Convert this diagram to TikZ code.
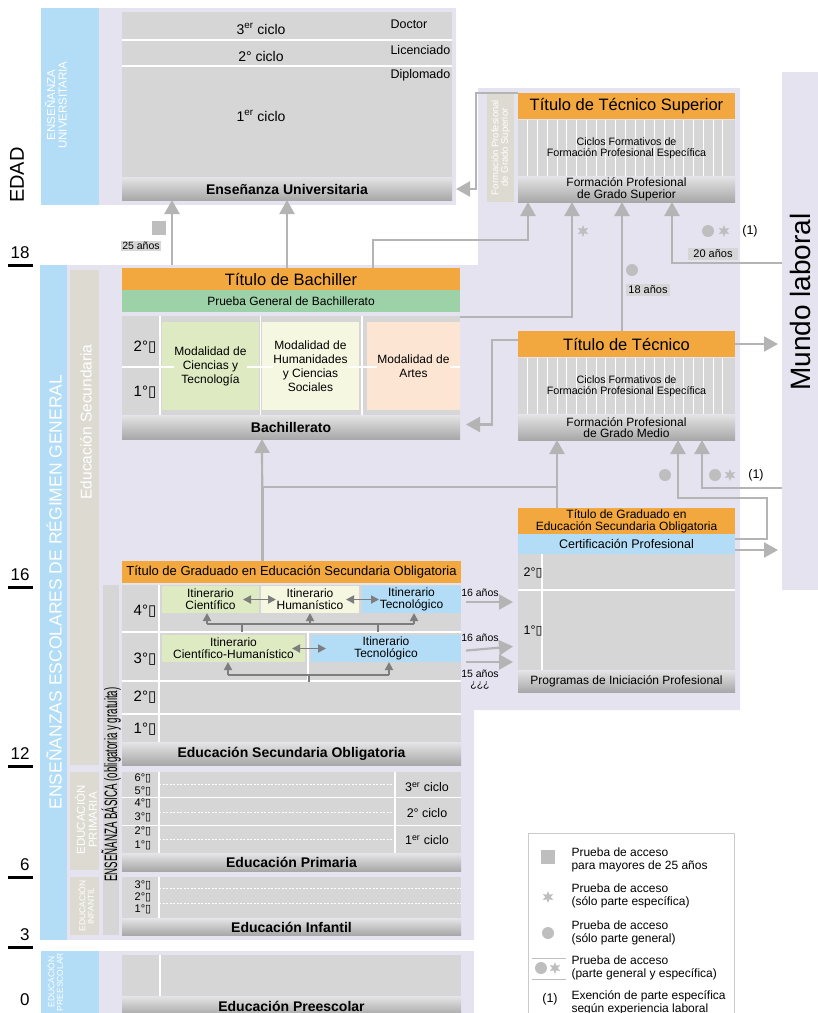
\documentclass[tikz,border=0pt]{standalone}
\usepackage{graphicx}
\usepackage{fontspec}
\setmainfont{Liberation Sans}
\newfontfamily\symfont{DejaVu Sans}
\usetikzlibrary{arrows.meta, shapes.geometric, positioning}

\definecolor{lav}{HTML}{E5E3EF}
\definecolor{sky}{HTML}{B3DDF6}
\definecolor{boxgray}{HTML}{D6D6D6}
\definecolor{sand}{HTML}{DDDBD1}
\definecolor{orng}{HTML}{F2A73F}
\definecolor{prueba}{HTML}{9DD1A8}
\definecolor{modcien}{HTML}{DEEAC2}
\definecolor{modhum}{HTML}{F5F7E1}
\definecolor{modart}{HTML}{FCE6D3}
\definecolor{barhi}{HTML}{E2E2E2}
\definecolor{barlo}{HTML}{A8A8A8}
\definecolor{connc}{HTML}{B4B4B4}
\definecolor{dark}{HTML}{7D7D7D}
\definecolor{symc}{HTML}{BEBEBE}

\newcommand\fsz[2]{\fontsize{#1}{#2}\selectfont}
\newcommand\tofu{{\symfont ▯}}
\newcommand\blk[7]{\node[#6, anchor=north west, inner sep=0pt, outer sep=0pt,
  minimum width={(#4-#2)*1pt}, minimum height={(#5-#3)*1pt}] (#1) at (#2,#3) {#7};}

\begin{document}
\begin{tikzpicture}[x=1pt, y=-1pt,
>={Triangle[length=14pt,width=15pt]},
box/.style={fill=boxgray},
bar/.style={top color=barhi, bottom color=barlo, font=\bfseries\fsz{14}{14}},
fpb/.style={top color=barhi, bottom color=barlo, font=\fsz{12}{11.5}, align=center},
ttl/.style={fill=orng, font=\fsz{16.5}{16.5}},
itin/.style={font=\fsz{12}{12}, align=center},
mtxt/.style={font=\fsz{12}{14}, align=center, inner sep=0pt},
link/.style={draw=connc, line width=2.2pt},
dlink/.style={draw=dark, line width=1.8pt},
dtip/.style={-{Triangle[length=8pt,width=8pt]}},
wline/.style={white, line width=1.6pt},
wdash/.style={white, line width=1pt, dash pattern=on 2pt off 1.5pt},
vtxt/.style={rotate=90, text=white, align=center},
yr/.style={font=\fsz{15}{15}},
yrs/.style={font=\fsz{11}{11}},
age/.style={fill=boxgray, font=\fsz{11}{11}, inner sep=2pt},
star6/.style={star, star points=6, star point ratio=2.2, fill=symc, draw=none, inner sep=0pt, minimum size=12pt},
dot/.style={circle, fill=symc, inner sep=0pt, minimum size=12pt},
legtxt/.style={anchor=west, font=\fsz{12}{12.5}, align=left}
]
\useasboundingbox (0,0) rectangle (818,1013);

\fill[lav] (41,8) rectangle (456,205);
\fill[sky] (41,8) rectangle (99,205);
\fill[lav] (67,265) -- (478,265) -- (478,88) -- (740,88) -- (740,710) -- (474,710) -- (474,940) -- (67,940) -- cycle;
\fill[sky] (40,265) rectangle (67,940);
\fill[lav] (41,951) rectangle (474,1013);
\fill[sky] (41,951) rectangle (99,1013);
\fill[sand] (70,270) rectangle (99,765);
\fill[sand] (70,772) rectangle (99,870);
\fill[sand] (70,877) rectangle (99,935);
\fill[boxgray] (103,585) rectangle (119,935);
\blk{mundo}{782}{72}{818}{590}{fill=lav}{}
\node[rotate=90, font=\fsz{28}{28}] (mlab) at ([yshift=29pt]mundo.center) {Mundo laboral};

\node[rotate=90, font=\fsz{20}{20}] (edad) at (17,175) {EDAD};
\node[vtxt, font=\fsz{11.5}{11.5}] (euni) at (56,105) {ENSEÑANZA\\UNIVERSITARIA};
\node[vtxt, font=\fsz{17.5}{17.5}] (eesc) at (54,592) {ENSEÑANZAS ESCOLARES DE RÉGIMEN GENERAL};
\node[vtxt, font=\fsz{15.5}{15.5}] (esec) at (86,422) {Educación Secundaria};
\node[vtxt, font=\fsz{11.5}{12}] (eprim) at (86,820) {EDUCACIÓN\\PRIMARIA};
\node[vtxt, font=\fsz{8.5}{8.5}] (einf) at (86,906) {EDUCACIÓN\\INFANTIL};
\node[vtxt, font=\fsz{8.5}{8.5}] (epre) at (55,982) {EDUCACIÓN\\PREESCOLAR};
\node[rotate=90, anchor=west, inner sep=0pt] (ebas) at (111,882) {\scalebox{0.54}[1]{\fsz{18}{18}ENSEÑANZA BÁSICA (obligatoria y gratuita)}};

\foreach \y/\a in {265/18, 587/16, 766/12, 877/6, 947/3} {
  \node[anchor=east, font=\fsz{17}{17}] at (33,\y-12) {\a};
  \draw[line width=3pt] (8,\y) -- (33,\y);
}
\node[anchor=east, font=\fsz{17}{17}] (a0) at (33,1000) {0};

\blk{univ}{122}{12}{452}{177}{box}{}
\blk{univbar}{122}{178}{452}{200}{bar}{Enseñanza Universitaria}
\draw[wline] (122,40) -- (452,40);
\draw[wline] (122,66) -- (452,66);
\node[font=\fsz{14}{14}] (c3) at (261,29) {3\textsuperscript{er} ciclo};
\node[font=\fsz{14}{14}] (c2) at (261,56) {2° ciclo};
\node[font=\fsz{14}{14}] (c1) at (261,116) {1\textsuperscript{er} ciclo};
\node[anchor=west, font=\fsz{12.5}{12.5}] (doc) at (387,24) {Doctor};
\node[anchor=west, font=\fsz{12.5}{12.5}] (lic) at (387,50) {Licenciado};
\node[anchor=west, font=\fsz{12.5}{12.5}] (dip) at (387,75) {Diplomado};

\fill[sand] (487,93) rectangle (514,202);
\node[vtxt, font=\fsz{9.5}{9.5}] (efps) at (500.5,147.5) {Formación Profesional\\de Grado Superior};
\blk{tsup}{518}{93}{735}{119}{ttl}{Título de Técnico Superior}
\blk{cfs}{518}{120}{735}{176}{box}{}
\foreach \i in {1,...,21} \draw[wline, line width=1pt] ([xshift=\i*9.75pt]cfs.north west) -- ([xshift=\i*9.75pt]cfs.south west);
\node[font=\fsz{10.7}{11.5}, align=center] (cfst) at (cfs.center) {Ciclos Formativos de\\Formación Profesional Específica};
\blk{fpsbar}{518}{177}{735}{202}{fpb}{Formación Profesional\\de Grado Superior}

\blk{ttec}{518}{331}{735}{357}{ttl}{Título de Técnico}
\blk{cfm}{518}{358}{735}{414}{box}{}
\foreach \i in {1,...,21} \draw[wline, line width=1pt] ([xshift=\i*9.75pt]cfm.north west) -- ([xshift=\i*9.75pt]cfm.south west);
\node[font=\fsz{10.7}{11.5}, align=center] (cfmt) at (cfm.center) {Ciclos Formativos de\\Formación Profesional Específica};
\blk{fpmbar}{518}{415}{735}{440}{fpb}{Formación Profesional\\de Grado Medio}

\blk{tbach}{122}{268}{460}{290}{ttl}{Título de Bachiller}
\blk{pgb}{122}{290}{460}{312}{fill=prueba, font=\fsz{12}{12}}{Prueba General de Bachillerato}
\blk{bachbox}{122}{316}{460}{415}{box}{}
\blk{bachbar}{122}{416}{460}{439}{bar}{Bachillerato}
\blk{modcie}{162}{322}{259}{410}{fill=modcien}{}
\blk{modhu}{262}{322}{359}{410}{fill=modhum}{}
\blk{modar}{367}{322}{460}{410}{fill=modart}{}
\draw[wline] (160,316) -- (160,415);
\draw[wline] (260.5,316) -- (260.5,415);
\draw[wline] (362,316) -- (362,415);
\draw[wline] (122,367) -- (460,367);
\node[mtxt, fill=modcien] at (modcie.center) {Modalidad de\\Ciencias y\\Tecnología};
\node[mtxt, fill=modhum] at (modhu.center) {Modalidad de\\Humanidades\\y Ciencias\\Sociales};
\node[mtxt, fill=modart] at (modar.center) {Modalidad de\\Artes};
\node[yr] (b2) at (145,347) {2°\tofu};
\node[yr] (b1) at (145,392) {1°\tofu};

\blk{tgeso}{122}{561}{461}{583}{ttl, font=\fsz{13}{13}}{Título de Graduado en Educación Secundaria Obligatoria}
\blk{esobox}{122}{585}{461}{742}{box}{}
\blk{esobar}{122}{743}{461}{765}{bar}{Educación Secundaria Obligatoria}
\draw[wline] (122,632) -- (461,632);
\draw[wline] (122,681) -- (461,681);
\draw[wline] (122,714) -- (461,714);
\draw[wline] (159,585) -- (159,742);
\draw[wline] (308,633) -- (308,681);
\blk{i4c}{162}{586}{259}{613}{fill=modcien, itin}{Itinerario\\Científico}
\blk{i4h}{261}{586}{359}{613}{fill=modhum, itin}{Itinerario\\Humanístico}
\blk{i4t}{362}{586}{461}{613}{fill=sky, itin}{Itinerario\\Tecnológico}
\blk{i3c}{162}{635}{305}{662}{fill=modcien, itin}{Itinerario\\Científico-Humanístico}
\blk{i3t}{311}{635}{461}{662}{fill=sky, itin}{Itinerario\\Tecnológico}
\node[yr] (e4) at (145,611) {4°\tofu};
\node[yr] (e3) at (145,659) {3°\tofu};
\node[yr] (e2) at (145,697) {2°\tofu};
\node[yr] (e1) at (145,729) {1°\tofu};

\draw[dlink, {Triangle[length=8pt,width=8pt]}-{Triangle[length=8pt,width=8pt]}] ([xshift=-16pt]i4c.east) -- ([xshift=15pt]i4h.west);
\draw[dlink, {Triangle[length=8pt,width=8pt]}-{Triangle[length=8pt,width=8pt]}] ([xshift=-13pt]i4h.east) -- ([xshift=17pt]i4t.west);
\draw[dlink, {Triangle[length=8pt,width=8pt]}-{Triangle[length=8pt,width=8pt]}] ([xshift=-13pt]i3c.east) -- ([xshift=15pt]i3t.west);

\draw[dlink] ([xshift=-3.5pt,yshift=-11pt]i4c.south) -- ([xshift=2.5pt,yshift=-11pt]i4t.south);
\draw[dlink, dtip] ([xshift=-3.5pt,yshift=-11pt]i4c.south) -- ([xshift=-3.5pt]i4c.south);
\draw[dlink, dtip] ([yshift=-11pt]i4h.south) -- (i4h.south);
\draw[dlink, dtip] ([xshift=2.5pt,yshift=-11pt]i4t.south) -- ([xshift=2.5pt]i4t.south);
\draw[dlink] ([xshift=31.5pt,yshift=-11pt]i4c.south) -- ([xshift=31.5pt,yshift=-19pt]i4c.south);
\draw[dlink] ([xshift=-33.5pt,yshift=-11pt]i4t.south) -- ([xshift=-33.5pt,yshift=-19pt]i4t.south);

\draw[dlink] ([xshift=-5.5pt,yshift=-13pt]i3c.south) -- ([xshift=3pt,yshift=-13pt]i3t.south);
\draw[dlink, dtip] ([xshift=-5.5pt,yshift=-13pt]i3c.south) -- ([xshift=-5.5pt]i3c.south);
\draw[dlink, dtip] ([xshift=3pt,yshift=-13pt]i3t.south) -- ([xshift=3pt]i3t.south);
\draw[dlink] ([xshift=4pt,yshift=-13pt]i3c.south east) -- ([xshift=4pt,yshift=-20pt]i3c.south east);

\blk{tpip}{518}{508}{735}{534}{fill=orng, font=\fsz{12}{12}, align=center}{Título de Graduado en\\Educación Secundaria Obligatoria}
\blk{tcert}{518}{534}{735}{554}{fill=sky, font=\fsz{12.5}{12.5}}{Certificación Profesional}
\blk{pipbox}{518}{554}{735}{670}{box}{}
\blk{pipbar}{518}{671}{735}{692}{bar, font=\fsz{12}{12}}{Programas de Iniciación Profesional}
\draw[wline] (518,590) -- (735,590);
\draw[wline] (542,554) -- (542,670);
\node[font=\fsz{12.5}{12.5}] (p2) at (533,573) {2°\tofu};
\node[font=\fsz{12.5}{12.5}] (p1) at (533,631) {1°\tofu};

\blk{primbox}{122}{772}{461}{853}{box}{}
\blk{primbar}{122}{854}{461}{871}{bar}{Educación Primaria}
\draw[wline] (122,797.5) -- (461,797.5);
\draw[wline] (122,825.5) -- (461,825.5);
\draw[wline] (159,772) -- (159,853);
\draw[wline] (395,772) -- (395,853);
\foreach \y in {784,812,839} \draw[wdash] (159,\y) -- (395,\y);
\foreach \y/\n in {778/6, 791/5, 803/4, 817/3, 831/2, 845/1} \node[yrs] at (143,\y) {\n°\tofu};
\node[font=\fsz{12.5}{12.5}] (p3c) at (427,787) {3\textsuperscript{er} ciclo};
\node[font=\fsz{12.5}{12.5}] (p2c) at (427,813) {2° ciclo};
\node[font=\fsz{12.5}{12.5}] (p1c) at (427,840) {1\textsuperscript{er} ciclo};

\blk{infbox}{122}{877}{461}{918}{box}{}
\blk{infbar}{122}{919}{461}{935}{bar}{Educación Infantil}
\draw[wline] (159,877) -- (159,918);
\foreach \y in {888,903} \draw[wdash] (159,\y) -- (461,\y);
\foreach \y/\n in {885/3, 897/2, 909/1} \node[yrs] at (143,\y) {\n°\tofu};

\blk{prebox}{122}{955}{461}{996}{box}{}
\blk{prebar}{122}{997}{461}{1015}{bar}{Educación Preescolar}
\draw[wline] (160,955) -- (160,996);

\node[fill=symc, minimum size=14pt, inner sep=0pt] (sq25) at (159,228) {};
\node[age, minimum width=38pt, inner sep=1pt, font=\fsz{10.5}{10.5}] (a25) at (141,246) {25 años};
\node[age] (a18) at (648,290) {18 años};
\node[age, inner xsep=5pt] (a20) at (713,254) {20 años};
\node[star6] (s1) at (583,231) {};
\node[dot] (d1) at (632,270) {};
\node[dot] (d2) at (708,231) {};
\node[star6] (s2) at (724,231) {};
\node[font=\fsz{12.5}{12.5}] (n1) at (750,231) {(1)};
\node[dot] (d3) at (665,475) {};
\node[dot] (d4) at (715,475) {};
\node[star6] (s3) at (730,475) {};
\node[font=\fsz{12.5}{12.5}] (n2) at (756,475) {(1)};
\node[font=\fsz{10.5}{10.5}] (l16a) at (480,593) {16 años};
\node[font=\fsz{10.5}{10.5}] (l16b) at (480,638) {16 años};
\node[font=\fsz{10.5}{10.5}] (l15) at (480,674) {15 años};
\node[font=\fsz{10.5}{10.5}] (lq) at (480,686) {¿¿¿};

\coordinate (m25) at (172,265);
\draw[link,->] (m25) -- (m25 |- univbar.south);
\draw[link,->] (tbach.north -| univbar.south) -- (univbar.south);
\draw[link,->] (tsup.north west) -- ++(-42,0) |- ([xshift=4pt]univbar.east);
\draw[link,->] ([xshift=82pt]tbach.north) -- ++(0,-28) -| ([xshift=-98.5pt]fpsbar.south);
\draw[link,->] ([yshift=-1pt]bachbox.north east) -| ([xshift=-54.5pt]fpsbar.south);
\draw[link,->] ([xshift=-4.5pt]ttec.north) -- ([xshift=-4.5pt]fpsbar.south);
\draw[link,->] ([yshift=68pt]mundo.west) -| ([xshift=45.5pt]fpsbar.south);
\draw[link,->,shorten >=4pt] (ttec.east) -- (ttec.east -| mundo.west);
\draw[link,->] ([yshift=4pt]ttec.west) -- ++(-26,0) |- ([xshift=6pt,yshift=3pt]bachbar.east);
\draw[link,->] ([xshift=-29pt]tgeso.north) -- ([xshift=-29pt]bachbar.south);
\draw[link] ([xshift=-29pt]tgeso.north) |- ([xshift=-69.5pt,yshift=21pt]tpip.north);
\draw[link,->] ([xshift=-69.5pt]tpip.north) -- ([xshift=-69.5pt]fpmbar.south);
\draw[link,->] ([yshift=5pt]tcert.east) -- ++(32,0) -- ++(0,-41) -| ([xshift=51.5pt]fpmbar.south);
\draw[link,->] ([yshift=-157pt]mundo.west) -| ([xshift=75.5pt]fpmbar.south);
\draw[link,->,shorten >=4pt] ([yshift=-6pt]tcert.east) -- ([yshift=-6pt]tcert.east -| mundo.west);
\draw[link,->,shorten <=5pt,shorten >=5pt] ([yshift=-2.5pt]i4t.east) -- ([yshift=10pt]pipbox.west);
\draw[link,->,shorten <=5pt,shorten >=5pt] ([yshift=-2.5pt]i3t.east) -- ([yshift=-34pt]pipbox.west);
\draw[link,->,shorten <=5pt,shorten >=5pt] (i3t.south east) -- ([yshift=-50pt]pipbox.west);

\draw[draw=symc!80, line width=1pt] (528,833) rectangle (734,1030);
\node[fill=symc, minimum size=14pt, inner sep=0pt] (lsq) at (548,857) {};
\node[legtxt] (lt1) at (568,860) {Prueba de acceso\\para mayores de 25 años};
\node[star6] (lst) at (548,897) {};
\node[legtxt] (lt2) at (568,896) {Prueba de acceso\\(sólo parte específica)};
\node[dot] (ldot) at (548,933) {};
\node[legtxt] (lt3) at (568,933) {Prueba de acceso\\(sólo parte general)};
\node[dot] (ldot2) at (541,968) {};
\node[star6] (lst2) at (555,968) {};
\draw[symc, line width=1pt] (532,958) -- (566,958);
\draw[symc, line width=1pt] (532,979) -- (566,979);
\node[legtxt] (lt4) at (568,968) {Prueba de acceso\\(parte general y específica)};
\node[font=\fsz{12.5}{12.5}] (ln1) at (550,999) {(1)};
\node[legtxt] (lt5) at (568,1003) {Exención de parte específica\\según experiencia laboral};
\end{tikzpicture}
\end{document}
